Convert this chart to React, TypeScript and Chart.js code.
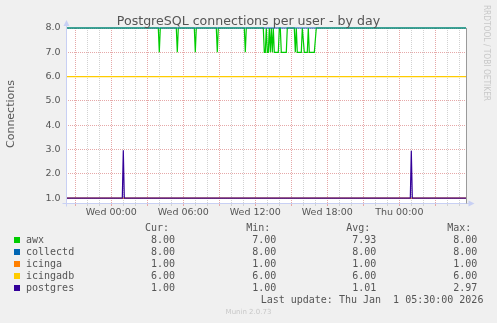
import React, { useEffect, useRef } from "react";
import { Chart, registerables } from "chart.js";

Chart.register(...registerables);

const W = 497;
const H = 323;

const chartTitle = "PostgreSQL connections per user - by day";
const yAxisTitle = "Connections";
const watermark = "RRDTOOL / TOBI OETIKER";
const footerText = "Munin 2.0.73";
const lastUpdate = "Last update: Thu Jan  1 05:30:00 2026";

// time axis: minutes relative to Wed 00:00
const xMinMinutes = -226.5;
const xMaxMinutes = 1773.5;
const xLabelMinutes = [0, 360, 720, 1080, 1440];
const xLabelTexts = ["Wed 00:00", "Wed 06:00", "Wed 12:00", "Wed 18:00", "Thu 00:00"];
const yTickValues = [1, 2, 3, 4, 5, 6, 7, 8];
const yTickTexts = ["1.0", "2.0", "3.0", "4.0", "5.0", "6.0", "7.0", "8.0"];

const seriesNames = ["awx", "collectd", "icinga", "icingadb", "postgres"];
const seriesColors = ["#00cc00", "#0066b3", "#ff8000", "#ffcc00", "#330099"];
const curTexts = ["8.00", "8.00", "1.00", "6.00", "1.00"];
const minTexts = ["7.00", "8.00", "1.00", "6.00", "1.00"];
const avgTexts = ["7.93", "8.00", "1.00", "6.00", "1.01"];
const maxTexts = ["8.00", "8.00", "1.00", "6.00", "2.97"];

const awxTimes = [
  -230, 235, 240, 245, 325, 330, 335, 415, 420, 425, 525, 530, 535, 665, 670, 675,
  760, 765, 770, 775, 780, 785, 790, 795, 800, 805, 810, 815, 835, 840, 845, 850, 875, 880,
  915, 920, 925, 930, 950, 955, 965, 980, 985, 990, 1015, 1025,
  1775,
];
const awxValues = [
  8, 8, 7, 8, 8, 7, 8, 8, 7, 8, 8, 7, 8, 8, 7, 8,
  8, 7, 7, 8, 7, 7, 8, 7, 8, 7, 8, 7, 7, 8, 8, 7, 7, 8,
  8, 7, 8, 7, 7, 8, 7, 7, 8, 7, 7, 8,
  8,
];
const collectdTimes = [-230, 1775];
const collectdValues = [8, 8];
const icingaTimes = [-230, 1775];
const icingaValues = [1, 1];
const icingadbTimes = [-230, 1775];
const icingadbValues = [6, 6];
const postgresTimes = [-230, 55, 60, 65, 1495, 1500, 1505, 1775];
const postgresValues = [1, 1, 2.97, 1, 1, 2.95, 1, 1];

const seriesTimes = [awxTimes, collectdTimes, icingaTimes, icingadbTimes, postgresTimes];
const seriesValues = [awxValues, collectdValues, icingaValues, icingadbValues, postgresValues];

const gridMinutes: number[] = [];
for (let m = -180; m <= 1740; m += 60) gridMinutes.push(m);
const gridYValues: number[] = [];
for (let v = 1; v <= 8; v += 0.5) gridYValues.push(v);

const MAJOR = "#e6a8a8";
const MINOR = "#d2d2d2";
const AXIS = "#c8d0f4";

const framePlugin = {
  id: "frame",
  beforeDraw(chart: any) {
    const { ctx, chartArea } = chart;
    ctx.save();
    ctx.fillStyle = "#f0f0f0";
    ctx.fillRect(0, 0, chart.width, chart.height);
    ctx.fillStyle = "#ffffff";
    ctx.fillRect(chartArea.left, chartArea.top, chartArea.right - chartArea.left, chartArea.bottom - chartArea.top);
    ctx.restore();
  },
  afterDraw(chart: any) {
    const { ctx, chartArea } = chart;
    const l = Math.round(chartArea.left) + 0.5;
    const b = Math.round(chartArea.bottom) + 0.5;
    const r = Math.round(chartArea.right) + 0.5;
    ctx.save();
    ctx.strokeStyle = AXIS;
    ctx.fillStyle = AXIS;
    ctx.lineWidth = 1;
    ctx.beginPath();
    ctx.moveTo(l, b + 3);
    ctx.lineTo(l, chartArea.top - 4);
    ctx.moveTo(l - 4, b);
    ctx.lineTo(r + 4, b);
    ctx.stroke();
    ctx.beginPath();
    ctx.moveTo(l - 3, chartArea.top - 2);
    ctx.lineTo(l + 3, chartArea.top - 2);
    ctx.lineTo(l, chartArea.top - 8);
    ctx.closePath();
    ctx.fill();
    ctx.beginPath();
    ctx.moveTo(r + 2, b - 3);
    ctx.lineTo(r + 2, b + 3);
    ctx.lineTo(r + 8, b);
    ctx.closePath();
    ctx.fill();
    ctx.strokeStyle = "#9a9a9a";
    ctx.beginPath();
    ctx.moveTo(r, chartArea.top);
    ctx.lineTo(r, b);
    ctx.stroke();
    ctx.restore();
  },
};

export default function App() {
  const canvasRef = useRef<HTMLCanvasElement | null>(null);

  useEffect(() => {
    const canvas = canvasRef.current;
    if (!canvas) return;
    const order = [5, 4, 3, 2, 1];
    const chart = new Chart(canvas, {
      type: "line",
      data: {
        datasets: seriesNames.map((name, i) => ({
          label: name,
          data: seriesTimes[i].map((t, j) => ({ x: t, y: seriesValues[i][j] })),
          borderColor: seriesColors[i],
          backgroundColor: seriesColors[i],
          borderWidth: 1.2,
          pointRadius: 0,
          tension: 0,
          fill: false,
          order: order[i],
          clip: { left: 0, right: 0, top: 2, bottom: 0 },
        })),
      },
      options: {
        responsive: false,
        animation: false,
        devicePixelRatio: 1,
        events: [],
        layout: { padding: { left: 0, top: 28, right: W - 466, bottom: 0 } },
        plugins: {
          legend: { display: false },
          tooltip: { enabled: false },
          title: { display: false },
        },
        scales: {
          x: {
            type: "linear",
            min: xMinMinutes,
            max: xMaxMinutes,
            afterBuildTicks: (scale: any) => {
              scale.ticks = gridMinutes.map((v) => ({ value: v }));
            },
            afterFit: (scale: any) => {
              scale.height = H - 203;
            },
            ticks: {
              autoSkip: false,
              maxRotation: 0,
              minRotation: 0,
              padding: 1,
              color: "#555555",
              font: { family: "DejaVu Sans", size: 9.5 },
              callback: (value: any) => {
                const k = xLabelMinutes.indexOf(Number(value));
                return k >= 0 ? xLabelTexts[k] : "";
              },
            },
            grid: {
              color: (ctx: any) => (ctx.tick && ctx.tick.value % 180 === 0 ? MAJOR : MINOR),
              lineWidth: 1,
              drawTicks: true,
              tickLength: 3,
            },
            border: { display: false, dash: [1, 1] },
          },
          y: {
            type: "linear",
            min: 0.8,
            max: 8,
            afterBuildTicks: (scale: any) => {
              scale.ticks = gridYValues.map((v) => ({ value: v }));
            },
            afterFit: (scale: any) => {
              scale.width = 66;
            },
            ticks: {
              padding: 5.5,
              color: "#555555",
              font: { family: "DejaVu Sans", size: 9.5 },
              callback: (value: any) => {
                const k = yTickValues.indexOf(Number(value));
                return k >= 0 ? yTickTexts[k] : "";
              },
            },
            grid: {
              color: (ctx: any) => (ctx.tick && Number.isInteger(ctx.tick.value) ? MAJOR : MINOR),
              lineWidth: 1,
              drawTicks: false,
            },
            border: { display: false, dash: [1, 1] },
          },
        },
      },
      plugins: [framePlugin],
    } as any);
    return () => chart.destroy();
  }, []);

  const mono = "'DejaVu Sans Mono', monospace";
  const sans = "'DejaVu Sans', sans-serif";
  const rowTop = (k: number) => 222.2 + 12 * k;
  const cell = (text: string, edge: number, top: number, key: string) => (
    <span
      key={key}
      style={{
        position: "absolute",
        right: W - edge,
        top,
        whiteSpace: "pre",
        lineHeight: "12px",
      }}
    >
      {text}
    </span>
  );
  const edges = [175, 276.4, 376.4, 477.4];
  const headers = ["Cur: ", "Min: ", "Avg: ", "Max: "];

  return (
    <div
      style={{
        position: "fixed",
        left: 0,
        top: 0,
        width: W,
        height: H,
        background: "#f0f0f0",
        overflow: "hidden",
      }}
    >
      <canvas ref={canvasRef} width={W} height={H} style={{ position: "absolute", left: 0, top: 0, width: W, height: H }} />
      <div
        style={{
          position: "absolute",
          left: 0,
          top: 12.6,
          width: W,
          textAlign: "center",
          fontFamily: sans,
          fontSize: 12.6,
          lineHeight: "15px",
          color: "#555555",
          whiteSpace: "pre",
        }}
      >
        {chartTitle}
      </div>
      <div
        style={{
          position: "absolute",
          left: 11 - 50,
          top: 114 - 7,
          width: 100,
          height: 14,
          lineHeight: "14px",
          textAlign: "center",
          fontFamily: sans,
          fontSize: 11,
          color: "#555555",
          transform: "rotate(-90deg)",
          whiteSpace: "pre",
        }}
      >
        {yAxisTitle}
      </div>
      <div
        style={{
          position: "absolute",
          left: 487.2 - 60,
          top: 53.3 - 6,
          width: 120,
          height: 12,
          lineHeight: "12px",
          textAlign: "center",
          fontFamily: "'DejaVu Sans Condensed', 'DejaVu Sans', sans-serif",
          fontSize: 8.3,
          color: "#c8c8c8",
          transform: "rotate(90deg)",
          whiteSpace: "pre",
        }}
      >
        {watermark}
      </div>
      <div style={{ position: "absolute", left: 0, top: 0, width: W, height: H, fontFamily: mono, fontSize: 10, color: "#555555" }}>
        {headers.map((h, i) => cell(h, edges[i], rowTop(0), "h" + i))}
        {seriesNames.map((name, i) => (
          <React.Fragment key={name}>
            <span
              style={{
                position: "absolute",
                left: 14,
                top: 237 + 12 * i,
                width: 6,
                height: 6,
                background: seriesColors[i],
              }}
            />
            <span style={{ position: "absolute", left: 26, top: rowTop(i + 1), lineHeight: "12px", whiteSpace: "pre" }}>{name}</span>
            {cell(curTexts[i], edges[0], rowTop(i + 1), "c" + i)}
            {cell(minTexts[i], edges[1], rowTop(i + 1), "m" + i)}
            {cell(avgTexts[i], edges[2], rowTop(i + 1), "a" + i)}
            {cell(maxTexts[i], edges[3], rowTop(i + 1), "x" + i)}
          </React.Fragment>
        ))}
        {cell(lastUpdate, 483.4, rowTop(6), "lu")}
      </div>
      <div
        style={{
          position: "absolute",
          left: 0,
          top: 312 - 5,
          width: W,
          lineHeight: "10px",
          textAlign: "center",
          fontFamily: sans,
          fontSize: 7,
          color: "#c8c8c8",
        }}
      >
        {footerText}
      </div>
    </div>
  );
}
